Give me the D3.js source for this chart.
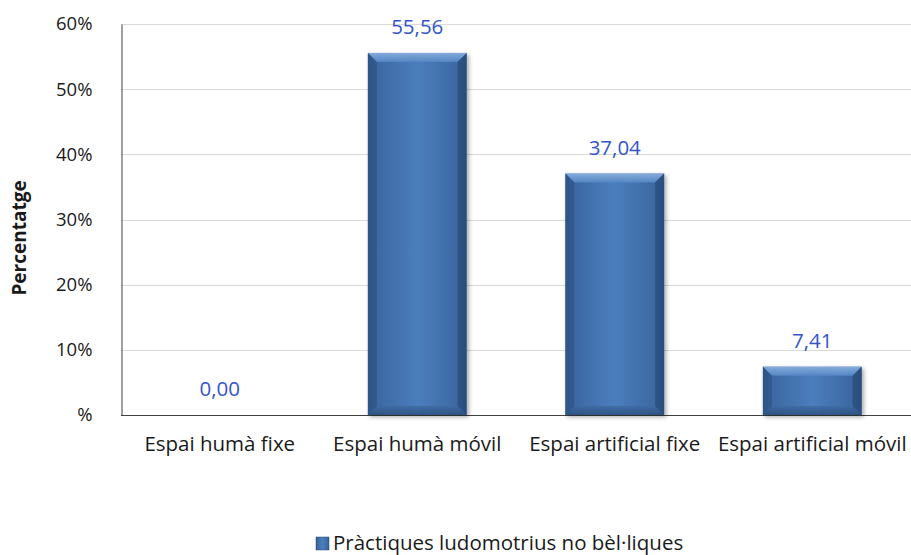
<!DOCTYPE html>
<html>
<head>
<meta charset="utf-8">
<script src="https://cdn.jsdelivr.net/npm/d3@7"></script>
<style>
  html, body { margin: 0; padding: 0; background: #ffffff; }
  svg { display: block; }
  text { font-family: "Open Sans", "Noto Sans", sans-serif; }
</style>
</head>
<body>
<svg id="chart" width="911" height="555"></svg>
<script>
// Distribution of ludomotor practices by type of space (%)
const categories = ["Espai humà fixe", "Espai humà móvil", "Espai artificial fixe", "Espai artificial móvil"];
const values = [0.00, 55.56, 37.04, 7.41];
const yTicks = [0, 10, 20, 30, 40, 50, 60];
const seriesName = "Pràctiques ludomotrius no bèl·liques";
const yTitle = "Percentatge";

const svg = d3.select("#chart");
const W = 911, H = 555;
const m = { left: 121, right: 0, top: 24, bottom: 140 };
const x0 = m.left, x1 = W - m.right, y0 = H - m.bottom, y1 = m.top;

const x = d3.scaleBand().domain(categories).range([x0, x1]).paddingInner(0.5).paddingOuter(0.25);
const y = d3.scaleLinear().domain([0, 60]).range([y0, y1]);

const fmt = d3.formatLocale({ decimal: ",", thousands: ".", grouping: [3], currency: ["", "€"] }).format(".2f");

// Gradients for the bevelled bars
const defs = svg.append("defs");
const face = defs.append("linearGradient").attr("id", "face").attr("x1", 0).attr("x2", 1).attr("y1", 0).attr("y2", 0);
face.append("stop").attr("offset", "0%").attr("stop-color", "#30588a");
face.append("stop").attr("offset", "8%").attr("stop-color", "#3c68a1");
face.append("stop").attr("offset", "50%").attr("stop-color", "#4b7ebd");
face.append("stop").attr("offset", "92%").attr("stop-color", "#3c68a1");
face.append("stop").attr("offset", "100%").attr("stop-color", "#30588a");
const topG = defs.append("linearGradient").attr("id", "topbevel").attr("x1", 0).attr("x2", 0).attr("y1", 0).attr("y2", 1);
topG.append("stop").attr("offset", "0%").attr("stop-color", "#84abdc");
topG.append("stop").attr("offset", "100%").attr("stop-color", "#5385c2");
const botG = defs.append("linearGradient").attr("id", "botbevel").attr("x1", 0).attr("x2", 0).attr("y1", 0).attr("y2", 1);
botG.append("stop").attr("offset", "0%").attr("stop-color", "#3d6aa2");
botG.append("stop").attr("offset", "100%").attr("stop-color", "#2a4d7a");
const shadow = defs.append("filter").attr("id", "shadow").attr("x", "-20%").attr("y", "-20%").attr("width", "140%").attr("height", "140%");
shadow.append("feDropShadow").attr("dx", 2).attr("dy", 2).attr("stdDeviation", 2).attr("flood-color", "#000").attr("flood-opacity", 0.35);

// Gridlines
svg.append("g").selectAll("line").data(yTicks.filter(t => t > 0)).join("line")
  .attr("x1", x0).attr("x2", x1)
  .attr("y1", d => Math.round(y(d)) + 0.5).attr("y2", d => Math.round(y(d)) + 0.5)
  .attr("stroke", "#d9d9d9").attr("stroke-width", 1);

// Y axis
const yAxis = svg.append("g").attr("transform", `translate(${x0 + 0.5},0)`)
  .call(d3.axisLeft(y).tickValues(yTicks).tickSize(0).tickPadding(29)
    .tickFormat(d => d === 0 ? "%" : d + "%"));
yAxis.select(".domain").attr("stroke", "#404040");
yAxis.selectAll("text").attr("font-size", 18.5).attr("fill", "#1a1a1a");

// X axis
const xAxis = svg.append("g").attr("transform", `translate(0,${y0 + 0.5})`)
  .call(d3.axisBottom(x).tickSize(0).tickPadding(21));
xAxis.select(".domain").attr("stroke", "#404040").attr("d", `M${x0},0H${x1}`);
xAxis.selectAll("text").attr("font-size", 20.5).attr("fill", "#1a1a1a");

// Bars
const bev = 9;
const bars = svg.append("g").selectAll("g").data(categories.map((c, i) => ({ c, v: values[i] })).filter(d => d.v > 0)).join("g")
  .attr("filter", "url(#shadow)");
bars.each(function(d) {
  const g = d3.select(this);
  const bx = x(d.c), bw = x.bandwidth(), by = y(d.v), bh = y(0) - y(d.v);
  const b = Math.min(bev, bh / 2);
  g.append("rect").attr("x", bx).attr("y", by).attr("width", bw).attr("height", bh).attr("fill", "url(#face)");
  // top bevel
  g.append("path").attr("d", `M${bx},${by}H${bx + bw}L${bx + bw - b},${by + b}H${bx + b}Z`).attr("fill", "url(#topbevel)");
  // bottom bevel
  g.append("path").attr("d", `M${bx},${by + bh}H${bx + bw}L${bx + bw - b},${by + bh - b}H${bx + b}Z`).attr("fill", "url(#botbevel)").attr("opacity", 0.8);
  // side bevels
  g.append("path").attr("d", `M${bx},${by}L${bx + b},${by + b}V${by + bh - b}L${bx},${by + bh}Z`).attr("fill", "#2e5486").attr("opacity", 0.7);
  g.append("path").attr("d", `M${bx + bw},${by}L${bx + bw - b},${by + b}V${by + bh - b}L${bx + bw},${by + bh}Z`).attr("fill", "#2a4c7a").attr("opacity", 0.75);
});

// Value labels
svg.append("g").selectAll("text").data(categories.map((c, i) => ({ c, v: values[i] }))).join("text")
  .attr("x", d => x(d.c) + x.bandwidth() / 2)
  .attr("y", d => y(d.v) - 19)
  .attr("text-anchor", "middle")
  .attr("font-size", 20.5).attr("fill", "#3355cc")
  .text(d => fmt(d.v));

// Y title
svg.append("text")
  .attr("transform", `translate(26,238) rotate(-90)`)
  .attr("text-anchor", "middle")
  .attr("font-size", 19).attr("font-weight", "bold").attr("fill", "#1a1a1a")
  .text(yTitle);

// Legend
const lg = svg.append("g").attr("transform", "translate(316,537)");
lg.append("rect").attr("width", 13).attr("height", 13).attr("fill", "url(#face)").attr("stroke", "#2a4c7a").attr("stroke-width", 0.5);
lg.append("text").attr("x", 17).attr("y", 13).attr("font-size", 20.5).attr("fill", "#1a1a1a").text(seriesName);
</script>
</body>
</html>
